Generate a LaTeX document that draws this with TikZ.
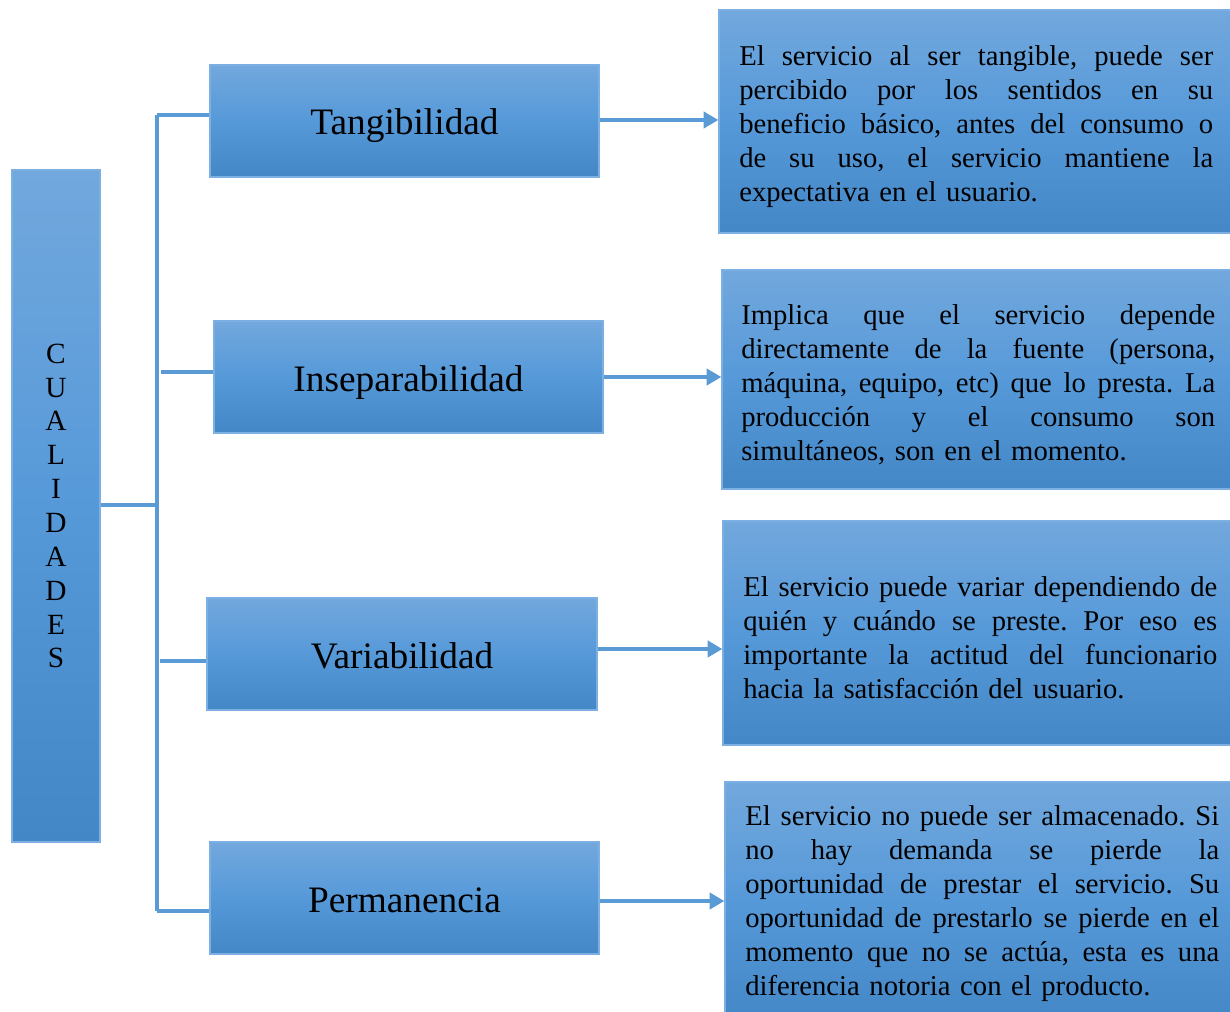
\documentclass[tikz,border=0pt]{standalone}
\usepackage{fontspec}
\setmainfont{Liberation Serif}
\usetikzlibrary{arrows.meta}
\definecolor{gtop}{HTML}{72A8DD}
\definecolor{gmid}{HTML}{5699D9}
\definecolor{gbot}{HTML}{4487C7}
\definecolor{lineblue}{HTML}{5B9BD5}
\definecolor{edgeblue}{HTML}{7DB0E2}
\newlength{\dtw}
\setlength{\dtw}{355.5pt}
\newcommand{\jl}[1]{\leavevmode\hbox to \dtw{\spaceskip=0.25em plus 1fil minus 0.05em\relax #1}}
\frenchspacing
\tikzset{
  bluebox/.style={draw=edgeblue, line width=0.9pt, top color=gtop, bottom color=gbot, middle color=gmid, inner sep=0pt},
  titlebox/.style={bluebox, minimum height=84pt, text height=26pt, text depth=5pt, font=\fontsize{28}{32}\selectfont},
  descbox/.style={bluebox},
  desctext/.style={anchor=west, inner sep=0pt, text width=\dtw, align=left, font=\fontsize{21.5}{25.5}\selectfont},
  conn/.style={draw=lineblue, line width=3pt},
  arr/.style={conn, -{Triangle[length=11pt,width=12pt]}}
}
\begin{document}
\begin{tikzpicture}[x=0.75pt,y=-0.75pt]
\useasboundingbox (0,0) rectangle (1230,1012);
\clip (0,0) rectangle (1230,1012);
% left title
\node[bluebox, minimum width=66pt, minimum height=504pt, align=center, font=\fontsize{22}{25.4}\selectfont] (cual) at (56,506) {C\\U\\A\\L\\I\\D\\A\\D\\E\\S};
% category boxes
\node[titlebox, minimum width=291.75pt] (tang) at (404.5,121) {Tangibilidad};
\node[titlebox, minimum width=291.75pt] (insep) at (408.5,377) {Inseparabilidad};
\node[titlebox, minimum width=292.5pt] (var) at (402,654) {Variabilidad};
\node[titlebox, minimum width=291.75pt] (perm) at (404.5,898) {Permanencia};
% description boxes
\node[descbox, minimum width=390.75pt, minimum height=167.25pt] (d1) at (979.5,121.5) {};
\node[descbox, minimum width=388.5pt, minimum height=164.25pt] (d2) at (981,379.5) {};
\node[descbox, minimum width=387.75pt, minimum height=168pt] (d3) at (981.5,633) {};
\node[descbox, minimum width=386.25pt, minimum height=180pt] (d4) at (982.5,902) {};
% description texts
\node[desctext] (t1) at (739,127) {\jl{El servicio al ser tangible, puede ser}\\
\jl{percibido por los sentidos en su}\\
\jl{beneficio básico, antes del consumo o}\\
\jl{de su uso, el servicio mantiene la}\\
expectativa en el usuario.};
\node[desctext] (t2) at (741,385) {\jl{Implica que el servicio depende}\\
\jl{directamente de la fuente (persona,}\\
\jl{máquina, equipo, etc) que lo presta. La}\\
\jl{producción y el consumo son}\\
simultáneos, son en el momento.};
\node[desctext] (t3) at (743,638) {\jl{El servicio puede variar dependiendo de}\\
\jl{quién y cuándo se preste. Por eso es}\\
\jl{importante la actitud del funcionario}\\
hacia la satisfacción del usuario.};
\node[desctext] (t4) at (745,904) {\jl{El servicio no puede ser almacenado. Si}\\
\jl{no hay demanda se pierde la}\\
\jl{oportunidad de prestar el servicio. Su}\\
\jl{oportunidad de prestarlo se pierde en el}\\
\jl{momento que no se actúa, esta es una}\\
diferencia notoria con el producto.};
% bracket
\coordinate (jc) at (157,505);
\coordinate (j1) at (157,115);
\coordinate (j2) at (161,372);
\coordinate (j3) at (160,661);
\coordinate (j4) at (157,911);
\draw[conn] (cual.east |- jc) -- (jc);
\draw[conn] (j1) -- (j4);
\draw[conn] (j1) -- (j1 -| tang.west);
\draw[conn] (j2) -- (j2 -| insep.west);
\draw[conn] (j3) -- (j3 -| var.west);
\draw[conn] (j4) -- (j4 -| perm.west);
% arrows
\coordinate (a1) at (600,120);
\coordinate (a2) at (604,377);
\coordinate (a3) at (598,649);
\coordinate (a4) at (600,901);
\draw[arr] (a1 -| tang.east) -- (a1 -| d1.west);
\draw[arr] (a2 -| insep.east) -- (a2 -| d2.west);
\draw[arr] (a3 -| var.east) -- (a3 -| d3.west);
\draw[arr] (a4 -| perm.east) -- (a4 -| d4.west);
\end{tikzpicture}
\end{document}
